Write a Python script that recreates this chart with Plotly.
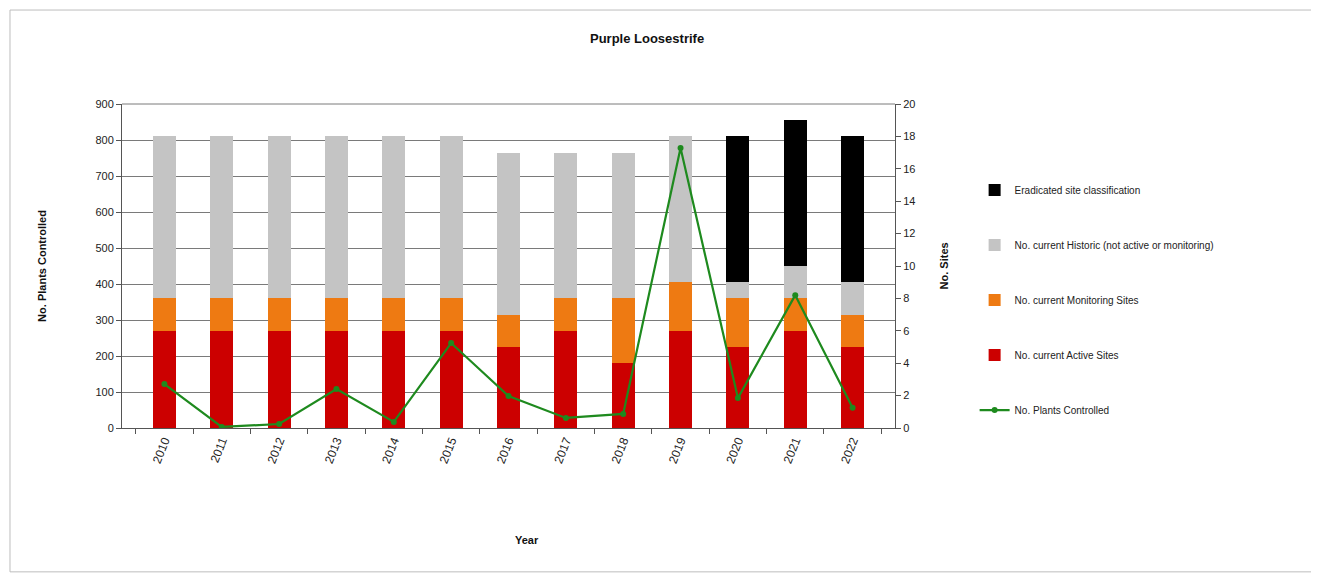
import plotly.graph_objects as go

years = [str(y) for y in range(2010, 2023)]

# site counts (right axis)
active_sites = [6, 6, 6, 6, 6, 6, 5, 6, 4, 6, 5, 6, 5]
monitoring_sites = [2, 2, 2, 2, 2, 2, 2, 2, 4, 3, 3, 2, 2]
historic_sites = [10, 10, 10, 10, 10, 10, 10, 9, 9, 9, 1, 2, 2]
eradicated_sites = [0, 0, 0, 0, 0, 0, 0, 0, 0, 0, 9, 9, 9]

# plants controlled (left axis)
plants_controlled = [122, 3, 11, 108, 17, 236, 89, 28, 39, 778, 83, 369, 56]

font = "Liberation Sans, Arial, sans-serif"

fig = go.Figure()

bar_specs = [
    ("No. current Active Sites", active_sites, "#CC0000", 4),
    ("No. current Monitoring Sites", monitoring_sites, "#EE7A12", 3),
    ("No. current Historic (not active or monitoring)", historic_sites, "#C4C4C4", 2),
    ("Eradicated site classification", eradicated_sites, "#000000", 1),
]
for name, vals, col, rank in bar_specs:
    fig.add_trace(go.Bar(
        x=years, y=vals, name=name, marker_color=col, marker_line_width=0,
        yaxis="y", width=0.4, legendrank=rank, legendgroup=name,
    ))

fig.add_trace(go.Scatter(
    x=years, y=plants_controlled, name="No. Plants Controlled", yaxis="y2",
    mode="lines+markers", line=dict(color="#1E8A1E", width=2.2),
    marker=dict(size=6, color="#1E8A1E"), legendrank=5, legendgroup="plants",
))

fig.update_layout(
    width=1319, height=579,
    margin=dict(l=114, r=432, t=96, b=159),
    paper_bgcolor="white", plot_bgcolor="white",
    barmode="stack",
    font=dict(family=font, size=11, color="#222"),
    title=dict(text="<b>Purple Loosestrife</b>", x=0.4845, xanchor="center",
               y=0.948, yanchor="middle", font=dict(size=13, color="#111")),
    xaxis=dict(
        type="category", tickangle=-68, ticks="outside", tickson="boundaries",
        ticklen=5, tickcolor="#555", showline=True, linecolor="#555",
        showgrid=False, tickfont=dict(size=12),
    ),
    yaxis=dict(
        range=[0, 20], dtick=2, side="right", ticks="outside",
        ticklen=5, tickcolor="#555", showline=True, linecolor="#555",
        showgrid=False, zeroline=False, tickfont=dict(size=11),
    ),
    yaxis2=dict(
        range=[0, 900], dtick=100, overlaying="y", side="left",
        ticks="outside", ticklen=5, tickcolor="#555",
        showline=True, linecolor="#555", showgrid=True, gridcolor="#7a7a7a",
        gridwidth=1, zeroline=False, tickfont=dict(size=11),
    ),
    legend=dict(
        x=1.103, xanchor="left", y=0.779, yanchor="top",
        traceorder="grouped", tracegroupgap=36,
        font=dict(size=10, color="#222"), bgcolor="rgba(0,0,0,0)",
        itemwidth=30,
    ),
    showlegend=True,
)

# axis titles
fig.add_annotation(text="<b>No. Plants Controlled</b>", xref="paper", yref="paper",
                   x=-0.114, y=0.5, textangle=-90, showarrow=False,
                   font=dict(size=11, color="#111"))
fig.add_annotation(text="<b>No. Sites</b>", xref="paper", yref="paper",
                   x=1.0743, y=0.5, textangle=-90, showarrow=False,
                   font=dict(size=11, color="#111"))
fig.add_annotation(text="<b>Year</b>", xref="paper", yref="paper",
                   x=0.524, y=-0.371, showarrow=False,
                   font=dict(size=11, color="#111"))

# top frame line and outer chart border
fig.add_shape(type="line", xref="paper", yref="paper", x0=0, x1=1, y0=1, y1=1,
              line=dict(color="#7a7a7a", width=1), layer="below")
fig.add_shape(type="rect", xref="paper", yref="paper",
              x0=-0.1449, x1=1.5395, y0=-0.444, y1=1.290,
              line=dict(color="#bdbdbd", width=1), layer="below")

fig.write_html("out.html")
